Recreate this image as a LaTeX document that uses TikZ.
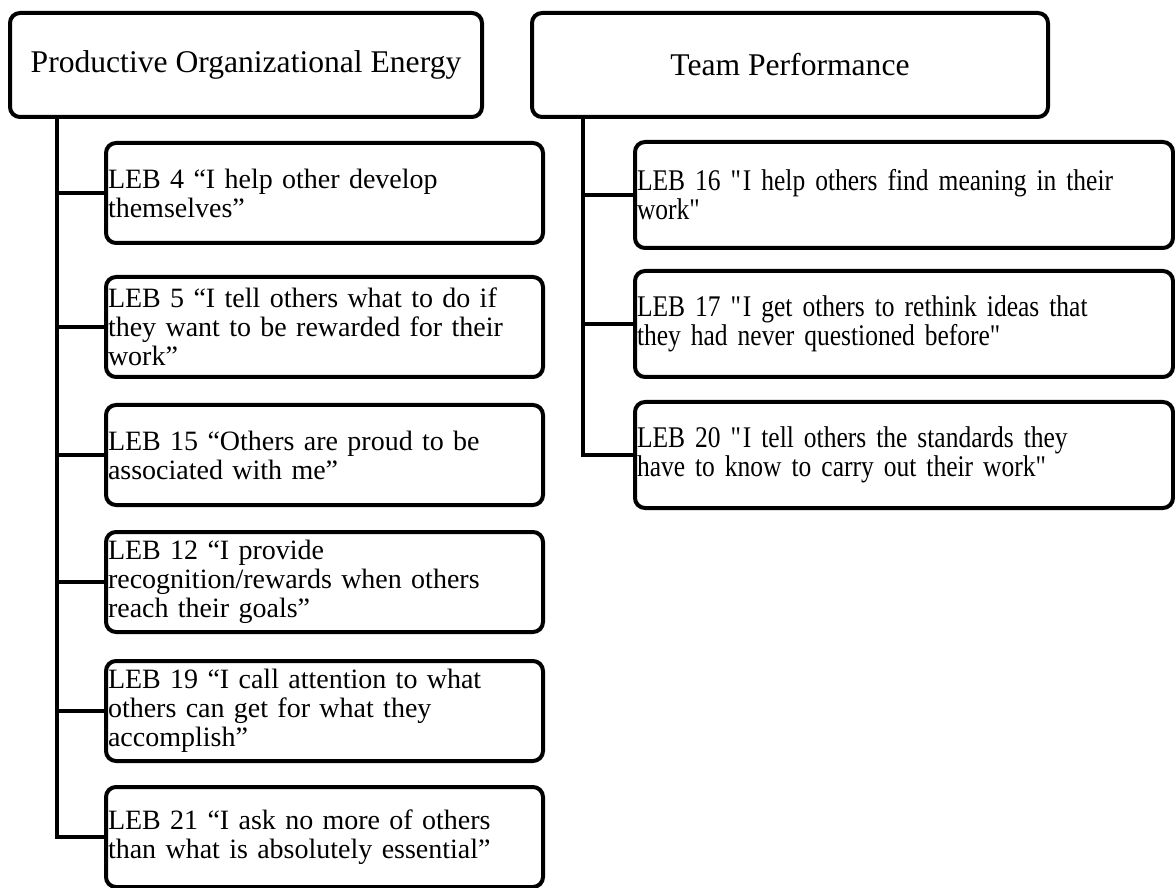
\documentclass[tikz,border=0pt]{standalone}
\usepackage{fontspec}
\setmainfont{Liberation Serif}
\newfontfamily\narrowserif{Liberation Serif}[FakeStretch=0.85]
\usepackage{tikz}
\usetikzlibrary{positioning}

\newcommand{\dq}{\textquotedbl}

\begin{document}
\begin{tikzpicture}[
  x=0.5pt, y=-0.5pt,
  font=\fontsize{14}{14.5}\selectfont,
  pbox/.style={rectangle,draw,line width=2pt,rounded corners=5pt,minimum height=52pt,align=center,font=\fontsize{15.8}{16}\selectfont},
  lbox/.style={rectangle,draw,line width=2pt,rounded corners=5pt,text width=216.5pt,inner xsep=1pt,inner ysep=0pt,minimum height=50pt,align=left},
  rbox/.style={lbox,text width=267pt,minimum height=53pt,font=\narrowserif\fontsize{15}{14.5}\selectfont},
  link/.style={line width=2pt}
]
  \useasboundingbox (0,0) rectangle (1175,888);

  % top level
  \node[pbox,minimum width=236pt] (poe) at (246,65) {Productive Organizational Energy};
  \node[pbox,minimum width=258pt] (tp) at (790,65) {Team Performance};

  % left branch
  \node[lbox] (leb4) at (324.5,193) {LEB 4 “I help other develop\\themselves”};
  \node[lbox] (leb5) at (324.5,327) {LEB 5 “I tell others what to do if\\they want to be rewarded for their\\work”};
  \node[lbox] (leb15) at (324.5,455) {LEB 15 “Others are proud to be\\associated with me”};
  \node[lbox] (leb12) at (324.5,582) {LEB 12 “I provide\\recognition/rewards when others\\reach their goals”};
  \node[lbox] (leb19) at (324.5,711) {LEB 19 “I call attention to what\\others can get for what they\\accomplish”};
  \node[lbox] (leb21) at (324.5,837) {LEB 21 “I ask no more of others\\than what is absolutely essential”};

  % right branch
  \node[rbox] (leb16) at (904,195) {LEB 16 \dq I help others find meaning in their\\work\dq};
  \node[rbox] (leb17) at (904,324) {LEB 17 \dq I get others to rethink ideas that\\they had never questioned before\dq};
  \node[rbox] (leb20) at (904,455) {LEB 20 \dq I tell others the standards they\\have to know to carry out their work\dq};

  \coordinate (sl) at (57,0);
  \coordinate (sr) at (583,0);

  \draw[link] (sl |- poe.south) |- (leb4.west);
  \draw[link] (sl |- poe.south) |- (leb5.west);
  \draw[link] (sl |- poe.south) |- (leb15.west);
  \draw[link] (sl |- poe.south) |- (leb12.west);
  \draw[link] (sl |- poe.south) |- (leb19.west);
  \draw[link] (sl |- poe.south) |- (leb21.west);

  \draw[link] (sr |- tp.south) |- (leb16.west);
  \draw[link] (sr |- tp.south) |- (leb17.west);
  \draw[link] (sr |- tp.south) |- (leb20.west);
\end{tikzpicture}
\end{document}
